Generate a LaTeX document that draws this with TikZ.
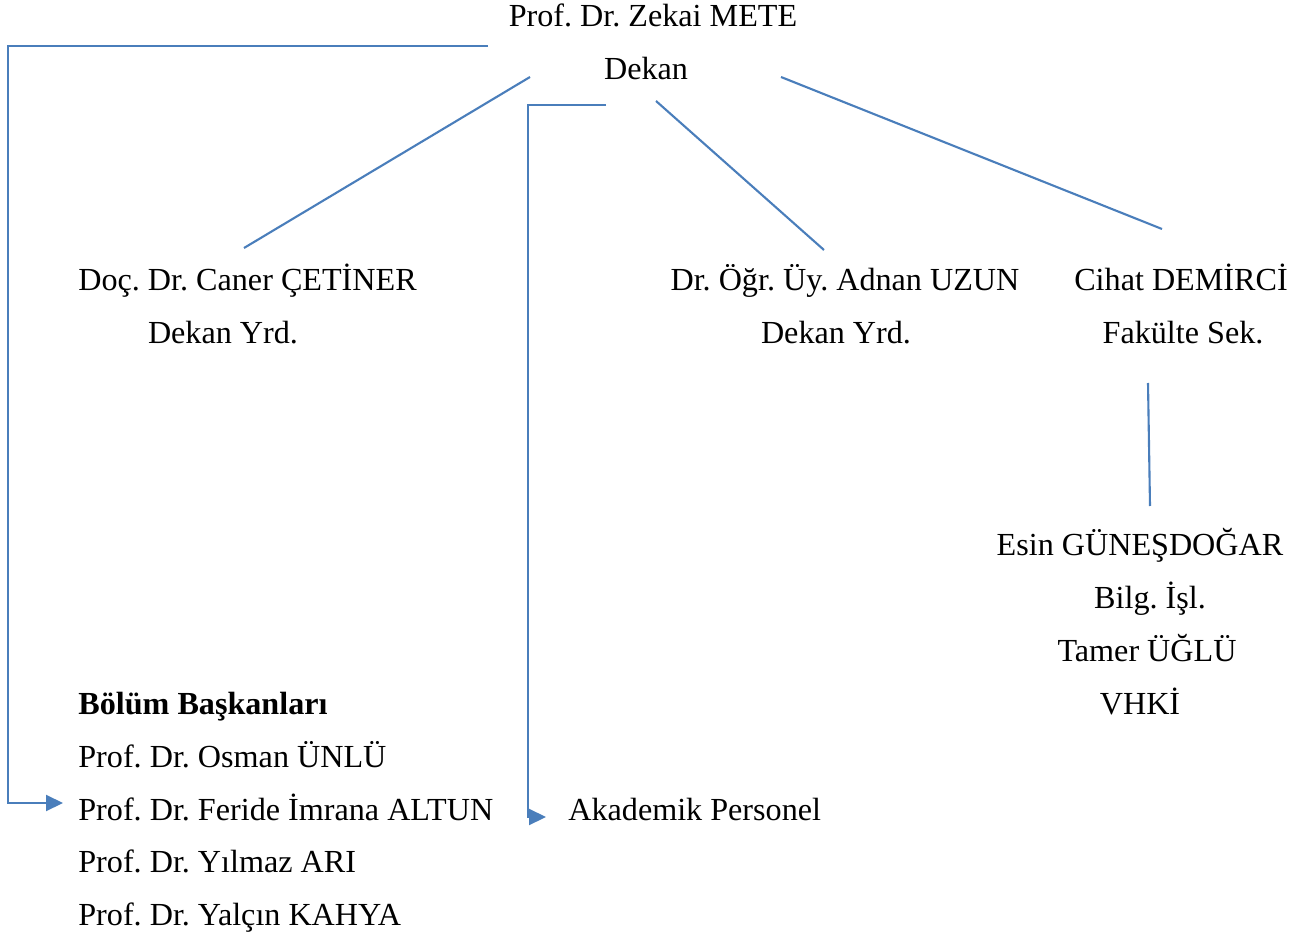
\documentclass[tikz,border=0pt]{standalone}
\usepackage{fontspec}
\setmainfont{Liberation Serif}
\frenchspacing
\usetikzlibrary{arrows.meta}
\definecolor{linkblue}{HTML}{4A7EBB}
\tikzset{
  person/.style={anchor=base, inner sep=0pt, font=\fontsize{18.3}{20}\selectfont},
  listed/.style={person, anchor=base west},
  link/.style={draw=linkblue, line width=1.2pt},
}
\begin{document}
\begin{tikzpicture}[x=0.02cm,y=-0.02cm,>={Triangle[length=0.34cm,width=0.32cm]}]
  \useasboundingbox (0,0) rectangle (1301,935);

  % dean
  \node[person] (dean) at (653,27) {Prof. Dr. Zekai METE};
  \node[person] (deant) at (646,80) {Dekan};

  % vice deans and secretary
  \node[listed] (vd1) at (78,291) {Doç. Dr. Caner ÇETİNER};
  \node[person] (vd1t) at (223,344) {Dekan Yrd.};
  \node[person] (vd2) at (845,291) {Dr. Öğr. Üy. Adnan UZUN};
  \node[person] (vd2t) at (836,344) {Dekan Yrd.};
  \node[person] (sec) at (1181,291) {Cihat DEMİRCİ};
  \node[person] (sect) at (1183,344) {Fakülte Sek.};

  % staff under the secretary
  \node[person] (st1) at (1140,555) {Esin GÜNEŞDOĞAR};
  \node[person] (st1t) at (1150,608) {Bilg. İşl.};
  \node[person] (st2) at (1147,661) {Tamer ÜĞLÜ};
  \node[person] (st2t) at (1140,714) {VHKİ};

  % heads of departments
  \node[listed] (heads) at (78,714) {\bfseries Bölüm Başkanları};
  \node[listed] (h1) at (78,767) {Prof. Dr. Osman ÜNLÜ};
  \node[listed] (h2) at (78,820) {Prof. Dr. Feride İmrana ALTUN};
  \node[listed] (h3) at (78,872) {Prof. Dr. Yılmaz ARI};
  \node[listed] (h4) at (78,925) {Prof. Dr. Yalçın KAHYA};

  \node[listed] (acad) at (568,820) {Akademik Personel};

  % line ends
  \coordinate (a1) at (488,46);
  \coordinate (a2) at (63,803);
  \coordinate (b1) at (606,105);
  \coordinate (b2) at (546,817);
  \coordinate (c1) at (530,77);
  \coordinate (c2) at (244,248);
  \coordinate (d1) at (656,101);
  \coordinate (d2) at (824,250);
  \coordinate (e1) at (781,77);
  \coordinate (e2) at (1162,229);
  \coordinate (f1) at (1148,383);
  \coordinate (f2) at (1150,506);

  % connectors
  \draw[link,->] (a1) -- (8,46) |- (a2);
  \draw[link,->] (b1) -- (528,105) |- (b2);
  \draw[link] (c1) -- (c2);
  \draw[link] (d1) -- (d2);
  \draw[link] (e1) -- (e2);
  \draw[link] (f1) -- (f2);
\end{tikzpicture}
\end{document}
